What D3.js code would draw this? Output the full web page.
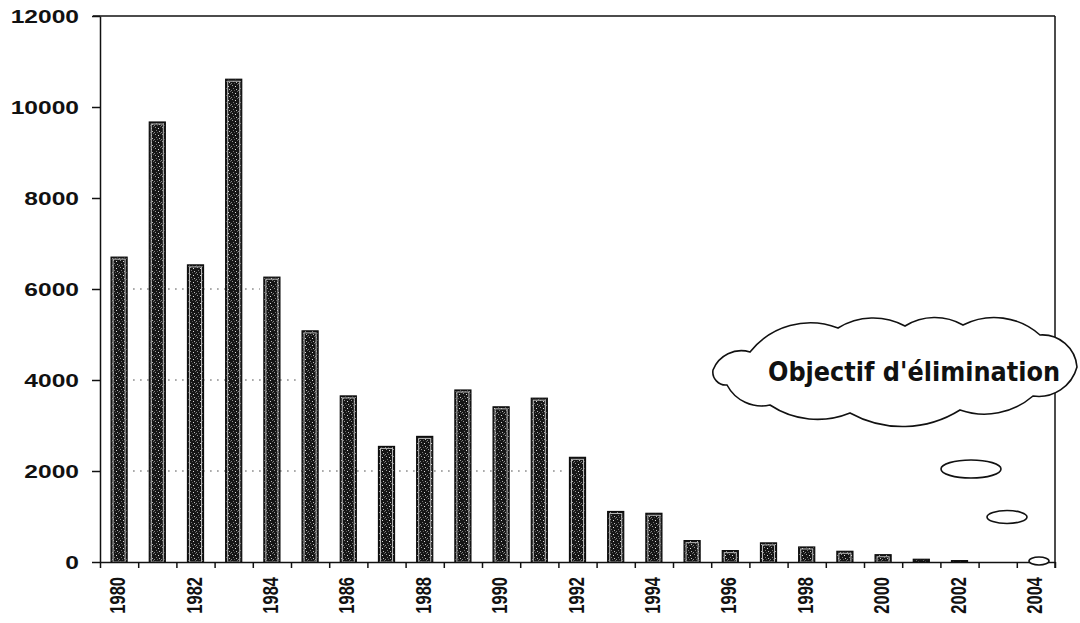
<!DOCTYPE html>
<html>
<head>
<meta charset="utf-8">
<script src="https://cdn.jsdelivr.net/npm/d3@7"></script>
<style>
  html, body { margin: 0; padding: 0; background: #fff; }
  svg { display: block; }
</style>
</head>
<body>
<svg id="chart" width="1080" height="623"></svg>
<script>
// Annual case counts, 1980–2004
const years = [1980, 1981, 1982, 1983, 1984, 1985, 1986, 1987, 1988, 1989,
               1990, 1991, 1992, 1993, 1994, 1995, 1996, 1997, 1998, 1999,
               2000, 2001, 2002, 2003, 2004];
const cases = [6700, 9670, 6530, 10610, 6260, 5080, 3650, 2540, 2760, 3780,
               3410, 3600, 2300, 1110, 1070, 470, 250, 420, 330, 235,
               160, 60, 30, 0, 0];
const yTicks = [0, 2000, 4000, 6000, 8000, 10000, 12000];
const xLabels = [1980, 1982, 1984, 1986, 1988, 1990, 1992, 1994, 1996, 1998, 2000, 2002, 2004];
// dotted reference levels and the year whose bar each one runs up to
const gridLevels = [2000, 4000, 6000];
const gridUntil = [1992, 1985, 1984];
const cloudText = "Objectif d'élimination";

const svg = d3.select("#chart");
const plotLeft = 100, plotRight = 1055, plotTop = 16, plotBottom = 562;
const sx = 1.33; // horizontal stretch applied to the lettering

const x = d3.scaleBand().domain(years).range([plotLeft, plotRight])
  .paddingInner(0.58).paddingOuter(0.29);
const y = d3.scaleLinear().domain([0, 12000]).range([plotBottom, plotTop]);
const edges = d3.scaleLinear().domain([0, years.length]).range([plotLeft, plotRight]);

// stippled fill for the bars
const defs = svg.append("defs");
const pat = defs.append("pattern").attr("id", "stipple")
  .attr("patternUnits", "userSpaceOnUse").attr("width", 7).attr("height", 7);
pat.append("rect").attr("width", 7).attr("height", 7).attr("fill", "#161616");
[[1, 1, "#9a9a9a"], [4, 2, "#e0e0e0"], [2, 4, "#777"], [5, 5, "#bdbdbd"], [6, 0, "#666"], [0, 6, "#888"], [3, 6, "#555"]]
  .forEach(([px, py, c]) => pat.append("rect").attr("x", px).attr("y", py)
    .attr("width", 1).attr("height", 1).attr("fill", c));

// dotted gridlines
svg.append("g").selectAll("line").data(gridLevels).join("line")
  .attr("x1", x(1980) + x.bandwidth() + 6)
  .attr("x2", (d, i) => x(gridUntil[i]) - 4)
  .attr("y1", d => y(d)).attr("y2", d => y(d))
  .attr("stroke", "#444").attr("stroke-width", 1)
  .attr("stroke-dasharray", "1.5,5.5");

// bars
const bars = svg.append("g");
years.forEach((yr, i) => {
  const v = cases[i];
  if (v <= 0) return;
  const bx = x(yr), bw = x.bandwidth();
  const by = y(v), bh = y(0) - y(v);
  bars.append("rect").attr("x", bx).attr("y", by).attr("width", bw).attr("height", bh)
    .attr("fill", "url(#stipple)").attr("stroke", "#0d0d0d").attr("stroke-width", 1.2);
  if (bh > 5) {
    bars.append("rect").attr("x", bx + 2).attr("y", by + 2)
      .attr("width", bw - 4).attr("height", bh - 2)
      .attr("fill", "none").attr("stroke", "#b8b8b8").attr("stroke-width", 1);
  }
});

// frame: top and right edges
svg.append("line").attr("x1", plotLeft - 7).attr("x2", plotRight).attr("y1", plotTop).attr("y2", plotTop)
  .attr("stroke", "#111").attr("stroke-width", 1.5);
svg.append("line").attr("x1", plotRight).attr("x2", plotRight).attr("y1", plotTop).attr("y2", plotBottom + 6)
  .attr("stroke", "#111").attr("stroke-width", 1.5);

// y axis
const yAxis = svg.append("g").attr("transform", `translate(${plotLeft},0)`)
  .call(d3.axisLeft(y).tickValues(yTicks).tickFormat(d3.format("d"))
    .tickSize(8).tickSizeOuter(0));
yAxis.select(".domain").attr("stroke", "#111").attr("stroke-width", 1.5);
yAxis.selectAll(".tick line").attr("stroke", "#111").attr("stroke-width", 1.5);
yAxis.selectAll(".tick text")
  .attr("x", null).attr("dy", "0.35em")
  .attr("transform", `translate(-21,0) scale(${sx},1)`)
  .attr("text-anchor", "end")
  .style("font-family", "'Liberation Sans', Arial, sans-serif")
  .style("font-size", "18.5px").style("font-weight", "bold").attr("fill", "#111");

// x axis with ticks between the years
const xAxis = svg.append("g").attr("transform", `translate(0,${plotBottom})`)
  .call(d3.axisBottom(edges).tickValues(d3.range(years.length + 1))
    .tickFormat("").tickSize(6).tickSizeOuter(0));
xAxis.select(".domain").attr("stroke", "#111").attr("stroke-width", 1.5);
xAxis.selectAll(".tick line").attr("stroke", "#111").attr("stroke-width", 1.5);

svg.append("g").selectAll("text").data(xLabels).join("text")
  .attr("transform", d => `translate(${x(d) + x.bandwidth() / 2 - 1.5},${plotBottom + 15}) scale(${sx},1) rotate(-90)`)
  .attr("text-anchor", "end").attr("dy", "0.35em")
  .style("font-family", "'Liberation Sans', Arial, sans-serif")
  .style("font-size", "16.5px").style("font-weight", "bold").attr("fill", "#111")
  .text(d => d);

// thought cloud with its trail of bubbles
const lobes = [
  [713, 370, 750, 352, 8], [750, 352, 838, 328, 15], [838, 328, 905, 326, 9],
  [905, 326, 963, 325, 8], [963, 325, 1040, 335, 12], [1040, 335, 1077, 367, 10],
  [1077, 367, 1033, 396, 10], [1033, 396, 960, 410, 10], [960, 410, 850, 413, 15],
  [850, 413, 770, 405, 10], [770, 405, 727, 385, 8], [727, 385, 713, 370, 5]
];
let cloud = `M${lobes[0][0]},${lobes[0][1]}`;
lobes.forEach(([x1, y1, x2, y2, s]) => {
  const c = Math.hypot(x2 - x1, y2 - y1);
  const r = (c * c / 4 + s * s) / (2 * s);
  cloud += ` A${r.toFixed(2)},${r.toFixed(2)} 0 0 1 ${x2},${y2}`;
});
cloud += " Z";
svg.append("path").attr("d", cloud)
  .attr("fill", "#fff").attr("stroke", "#111").attr("stroke-width", 1.6);

svg.append("text").attr("x", 914).attr("y", 381)
  .attr("text-anchor", "middle")
  .attr("textLength", 292).attr("lengthAdjust", "spacingAndGlyphs")
  .style("font-family", "'DejaVu Sans', Verdana, sans-serif")
  .style("font-size", "26px").style("font-weight", "bold").attr("fill", "#111")
  .text(cloudText);

const bubbles = [[971, 469, 30, 9], [1007, 517, 20, 6.5], [1039, 561, 10, 4]];
svg.append("g").selectAll("ellipse").data(bubbles).join("ellipse")
  .attr("cx", d => d[0]).attr("cy", d => d[1]).attr("rx", d => d[2]).attr("ry", d => d[3])
  .attr("fill", "#fff").attr("stroke", "#111").attr("stroke-width", 1.6);
</script>
</body>
</html>
